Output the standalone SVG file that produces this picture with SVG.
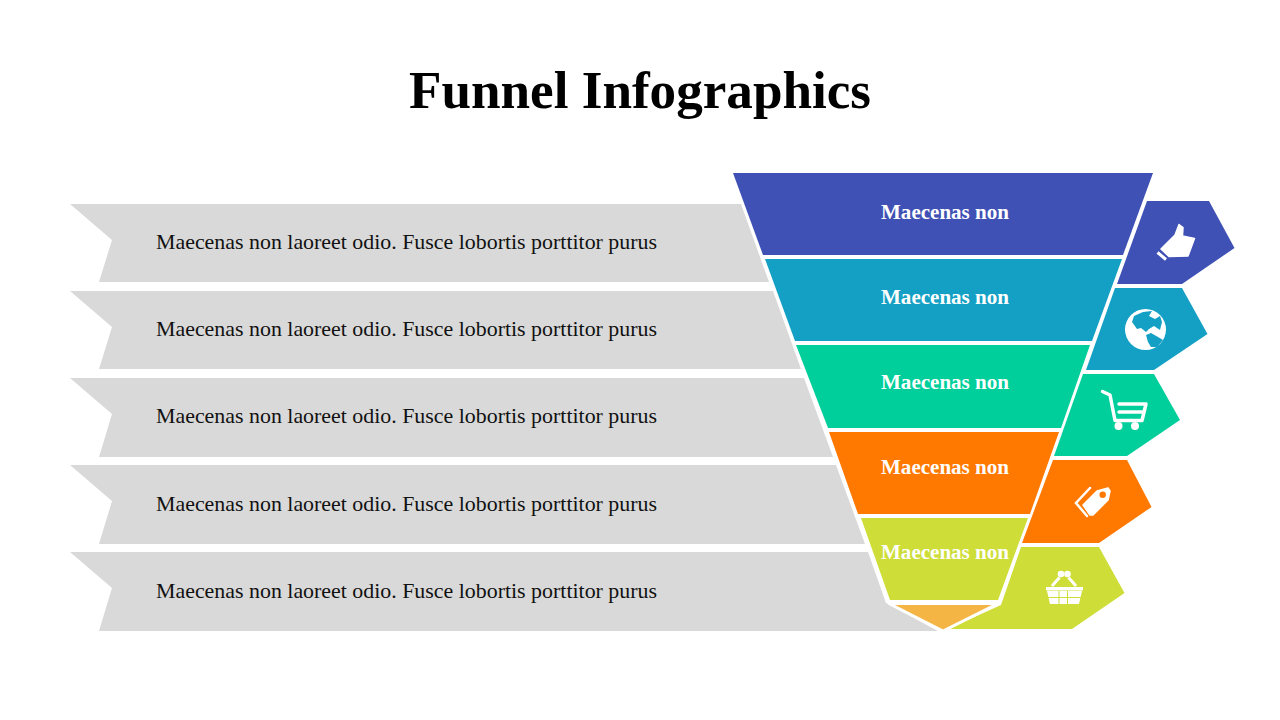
<svg xmlns="http://www.w3.org/2000/svg" width="1280" height="720" viewBox="0 0 1280 720">
<style>
text{font-family:"Liberation Serif",serif}
.title{font-size:52px;font-weight:700;fill:#000}
.body{font-size:22px;fill:#111}
.lab{font-size:20.5px;font-weight:700;fill:#fff}
.rib{fill:#d9d9d9}
.ic{fill:#fff}
.ln{fill:none;stroke:#fff}
</style>
<rect width="1280" height="720" fill="#fff"/>
<text class="title" x="409" y="108" textLength="462" lengthAdjust="spacingAndGlyphs">Funnel Infographics</text>
<g id="row-1"><polygon class="rib" points="70,204 741,204 769,282 99,282 112,240"/><text class="body" x="156" y="249" textLength="501" lengthAdjust="spacingAndGlyphs">Maecenas non laoreet odio. Fusce lobortis porttitor purus</text></g>
<g id="row-2"><polygon class="rib" points="70,291 773,291 801,369 99,369 112,327"/><text class="body" x="156" y="336" textLength="501" lengthAdjust="spacingAndGlyphs">Maecenas non laoreet odio. Fusce lobortis porttitor purus</text></g>
<g id="row-3"><polygon class="rib" points="70,378 804,378 833,457 99,457 112,414"/><text class="body" x="156" y="423" textLength="501" lengthAdjust="spacingAndGlyphs">Maecenas non laoreet odio. Fusce lobortis porttitor purus</text></g>
<g id="row-4"><polygon class="rib" points="70,465 836,465 865,544 99,544 112,501"/><text class="body" x="156" y="511" textLength="501" lengthAdjust="spacingAndGlyphs">Maecenas non laoreet odio. Fusce lobortis porttitor purus</text></g>
<g id="row-5"><polygon class="rib" points="70,552 868,552 886,603 938,631 99,631 112,588"/><text class="body" x="156" y="598" textLength="501" lengthAdjust="spacingAndGlyphs">Maecenas non laoreet odio. Fusce lobortis porttitor purus</text></g>

<g id="tier-1"><polygon fill="#4051b5" points="733,173 1153,173 1123,255 763,255"/><text class="lab" x="881" y="219" textLength="128" lengthAdjust="spacingAndGlyphs">Maecenas non</text></g>
<g id="tier-2"><polygon fill="#14a0c4" points="765,259 1122,259 1092,341 795,341"/><text class="lab" x="881" y="304" textLength="128" lengthAdjust="spacingAndGlyphs">Maecenas non</text></g>
<g id="tier-3"><polygon fill="#00ce9b" points="796,345 1090,345 1061,428 828,428"/><text class="lab" x="881" y="389" textLength="128" lengthAdjust="spacingAndGlyphs">Maecenas non</text></g>
<g id="tier-4"><polygon fill="#ff7800" points="829,432 1059,432 1030,514 858,514"/><text class="lab" x="881" y="474" textLength="128" lengthAdjust="spacingAndGlyphs">Maecenas non</text></g>
<g id="tier-5"><polygon fill="#cedd38" points="861,518 1028,518 998,600 890,600"/><text class="lab" x="881" y="559" textLength="128" lengthAdjust="spacingAndGlyphs">Maecenas non</text></g>

<g id="tag-1"><polygon fill="#4051b5" points="1147,201 1209,201 1234.500,248 1182,284 1117,284"/>
<polygon class="ic" stroke="#fff" stroke-width="1.500" stroke-linejoin="round" points="1161,249 1175,235 1179,224.500 1183,227.500 1182.500,236 1194.500,238.500 1188,256 1169,256.500"/>
<path class="ln" stroke-width="3" d="M1157.500,252.500L1166,259.500"/></g>
<g id="tag-2"><polygon fill="#14a0c4" points="1115,288 1182,288 1207.500,334 1154,370 1086,370"/>
<circle class="ic" cx="1145.500" cy="329.500" r="20.500"/>
<path fill="#14a0c4" d="M1132,322L1134,316L1143,312L1152,311L1149,316L1155,319L1160,316L1162,322L1160,330L1154,326L1149,329L1146,332L1141,328L1137,329ZM1146,335L1151,333L1158,337L1163,340L1157,347L1151,347L1148,342Z"/></g>
<g id="tag-3"><polygon fill="#00ce9b" points="1083,374 1154,374 1180,420 1127,456 1054,456"/>
<path class="ln" stroke-width="3.500" stroke-linejoin="round" stroke-linecap="round" d="M1102.500,391.500L1110,395L1115,420.500L1142,420.500L1146,404L1119,404M1119,412L1143,412"/>
<circle class="ic" cx="1118.500" cy="426" r="4"/><circle class="ic" cx="1135" cy="426" r="4"/></g>
<g id="tag-4"><polygon fill="#ff7800" points="1053,460 1127,460 1151.500,507 1099,543 1022,543"/>
<polygon class="ic" stroke="#fff" stroke-width="1.500" stroke-linejoin="round" points="1083,505 1097,491 1108,488 1110,491 1108,500 1093,515 1090,515"/>
<circle fill="#ff7800" cx="1102.700" cy="494.700" r="3.200"/>
<path class="ln" stroke-width="2.500" stroke-linecap="round" d="M1090,488L1076,503L1087,516"/></g>
<g id="tag-5"><polygon fill="#cedd38" points="1021,547 1099,547 1124.500,593 1072,629 948,629 1001,605"/>
<circle class="ic" cx="1061" cy="574" r="3.300"/><circle class="ic" cx="1067.500" cy="574" r="3.300"/>
<path class="ln" stroke-width="3" d="M1052,586L1059.500,577.500M1076,586L1068.500,577.500"/>
<rect class="ic" x="1046" y="587" width="37" height="3.500"/>
<polygon class="ic" points="1047,591 1082,591 1079,604 1050,604"/>
<path fill="none" stroke="#cedd38" stroke-width="1" d="M1059,591V604M1067.500,591V604M1047,597.500H1082"/></g>
<g id="tier-6"><polygon fill="#f4b545" stroke="#fff" stroke-width="3" points="889,603.500 998,603.500 943,631"/></g>
</svg>
